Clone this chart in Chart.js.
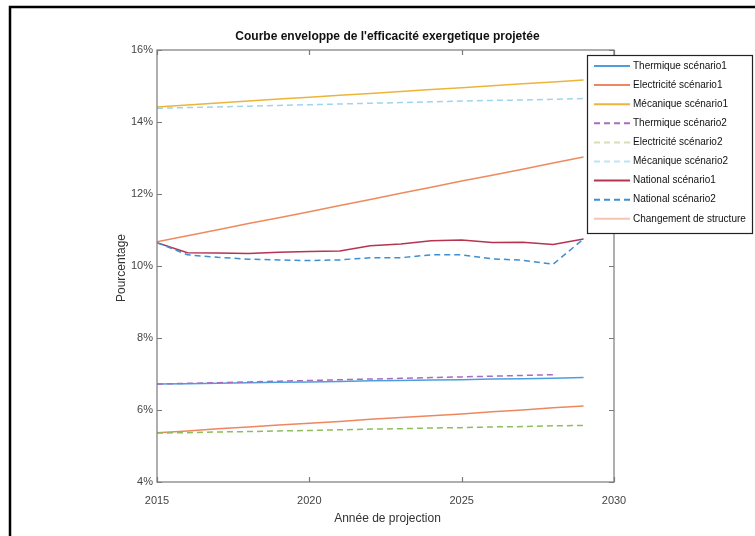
<!DOCTYPE html>
<html>
<head>
<meta charset="utf-8">
<script src="https://cdn.jsdelivr.net/npm/chart.js@4/dist/chart.umd.min.js"></script>
<style>
  html, body { margin: 0; padding: 0; background: #fff; }
  #wrap { width: 755px; height: 536px; position: relative; }
</style>
</head>
<body>
<div id="wrap"><canvas id="chart" width="755" height="536"></canvas></div>
<script>
// Values (percent)
const years = [2015, 2016, 2017, 2018, 2019, 2020, 2021, 2022, 2023, 2024, 2025, 2026, 2027, 2028, 2029];
const thermique1 = [6.72, 6.73, 6.74, 6.76, 6.77, 6.78, 6.79, 6.81, 6.82, 6.83, 6.84, 6.86, 6.87, 6.88, 6.90];
const electricite1 = [5.37, 5.42, 5.48, 5.53, 5.58, 5.63, 5.68, 5.74, 5.79, 5.84, 5.89, 5.95, 6.00, 6.06, 6.11];
const mecanique1 = [14.42, 14.47, 14.53, 14.58, 14.64, 14.69, 14.74, 14.79, 14.85, 14.90, 14.95, 15.01, 15.06, 15.11, 15.17];
const thermique2 = [6.72, 6.74, 6.76, 6.78, 6.80, 6.82, 6.84, 6.86, 6.88, 6.90, 6.92, 6.94, 6.96, 6.98, null];
const electricite2 = [5.36, 5.37, 5.39, 5.40, 5.42, 5.43, 5.45, 5.47, 5.48, 5.50, 5.51, 5.53, 5.54, 5.56, 5.57];
const mecanique2 = [14.38, 14.40, 14.42, 14.44, 14.46, 14.48, 14.50, 14.52, 14.54, 14.56, 14.58, 14.60, 14.61, 14.63, 14.65];
const national1 = [10.65, 10.37, 10.36, 10.35, 10.38, 10.40, 10.42, 10.56, 10.61, 10.70, 10.72, 10.65, 10.66, 10.60, 10.75];
const national2 = [10.65, 10.31, 10.24, 10.19, 10.17, 10.15, 10.17, 10.23, 10.23, 10.31, 10.31, 10.20, 10.16, 10.05, 10.75];
const changement = [10.67, 10.84, 11.01, 11.18, 11.34, 11.51, 11.68, 11.85, 12.02, 12.19, 12.36, 12.52, 12.69, 12.86, 13.03];

const seriesNames = [
  "Thermique scénario1", "Electricité scénario1", "Mécanique scénario1",
  "Thermique scénario2", "Electricité scénario2", "Mécanique scénario2",
  "National scénario1", "National scénario2", "Changement de structure"
];
const seriesValues = [thermique1, electricite1, mecanique1, thermique2, electricite2, mecanique2, national1, national2, changement];
// legend swatches look paler than the plotted lines in the picture
const legendColors = ["#4c9fdc", "#ee8660", "#ecb53a", "#a86cc0", "#dcdcb8", "#bfe3f4", "#b53450", "#3d8fd2", "#f6c4b2"];
const lineColors = ["#4c9fdc", "#ee8660", "#ecb53a", "#a86cc0", "#8fbc5c", "#9fd4ee", "#b53450", "#3d8fd2", "#ee8a5e"];
const seriesDashed = [false, false, false, true, true, true, false, true, false];

const xTicks = [2015, 2020, 2025, 2030];
const yTicks = [4, 6, 8, 10, 12, 14, 16];

const title = "Courbe enveloppe de l'efficacité exergetique projetée";
const xTitle = "Année de projection";
const yTitle = "Pourcentage";

const FONT = "'Liberation Sans', Arial, sans-serif";

const datasets = seriesNames.map((name, i) => ({
  label: name,
  data: years.map((y, j) => ({ x: y, y: seriesValues[i][j] })),
  borderColor: lineColors[i],
  backgroundColor: lineColors[i],
  borderWidth: 1.5,
  borderDash: seriesDashed[i] ? [6, 4] : [],
  pointRadius: 0,
  tension: 0,
  spanGaps: false,
  order: 9 - i
}));

// draws the frame, box, inward ticks, titles and legend like the matlab figure
const decorations = {
  id: "decorations",
  beforeDraw(chart) {
    const ctx = chart.ctx;
    ctx.save();
    ctx.fillStyle = "#fff";
    ctx.fillRect(0, 0, chart.width, chart.height);
    ctx.strokeStyle = "#000";
    ctx.lineWidth = 2.5;
    ctx.beginPath();
    ctx.moveTo(10, chart.height);
    ctx.lineTo(10, 7);
    ctx.lineTo(chart.width, 7);
    ctx.stroke();
    ctx.restore();
  },
  afterDraw(chart) {
    const ctx = chart.ctx;
    const a = chart.chartArea;
    const xs = chart.scales.x, ys = chart.scales.y;
    ctx.save();
    // axes box
    ctx.strokeStyle = "#7a7a7a";
    ctx.lineWidth = 1.2;
    ctx.strokeRect(a.left, a.top, a.right - a.left, a.bottom - a.top);
    // inward ticks
    ctx.beginPath();
    xTicks.forEach(v => {
      const px = Math.round(xs.getPixelForValue(v)) + 0.5;
      ctx.moveTo(px, a.bottom); ctx.lineTo(px, a.bottom - 5);
      ctx.moveTo(px, a.top); ctx.lineTo(px, a.top + 5);
    });
    yTicks.forEach(v => {
      const py = Math.round(ys.getPixelForValue(v)) + 0.5;
      ctx.moveTo(a.left, py); ctx.lineTo(a.left + 5, py);
      ctx.moveTo(a.right, py); ctx.lineTo(a.right - 5, py);
    });
    ctx.stroke();

    // title and axis titles
    ctx.fillStyle = "#111";
    ctx.font = "bold 12px " + FONT;
    ctx.textAlign = "center";
    ctx.textBaseline = "middle";
    ctx.fillText(title, (a.left + a.right) / 2 + 2, 37);
    ctx.fillStyle = "#333";
    ctx.font = "12px " + FONT;
    ctx.fillText(xTitle, (a.left + a.right) / 2 + 2, 519);
    ctx.save();
    ctx.translate(122, (a.top + a.bottom) / 2 + 2);
    ctx.rotate(-Math.PI / 2);
    ctx.fillText(yTitle, 0, 0);
    ctx.restore();

    // legend
    const lx = 587, ly = 55, lw = 165, lh = 178;
    ctx.fillStyle = "#fff";
    ctx.fillRect(lx, ly, lw, lh);
    ctx.strokeStyle = "#222";
    ctx.lineWidth = 1.2;
    ctx.strokeRect(lx + 0.5, ly + 0.5, lw, lh);
    ctx.font = "10px " + FONT;
    ctx.textAlign = "left";
    chart.data.datasets.forEach((ds, i) => {
      const yy = 66 + i * 19.1;
      ctx.strokeStyle = legendColors[i];
      ctx.lineWidth = 2;
      ctx.setLineDash(seriesDashed[i] ? [6, 4] : []);
      ctx.beginPath();
      ctx.moveTo(594, yy);
      ctx.lineTo(630, yy);
      ctx.stroke();
      ctx.setLineDash([]);
      ctx.fillStyle = "#111";
      ctx.fillText(ds.label, 633, yy);
    });
    ctx.restore();
  }
};

new Chart(document.getElementById("chart"), {
  type: "line",
  data: { datasets },
  options: {
    responsive: false,
    animation: false,
    layout: { padding: { top: 50, right: 141, left: 0, bottom: 0 } },
    plugins: { legend: { display: false }, title: { display: false }, tooltip: { enabled: false } },
    scales: {
      x: {
        type: "linear",
        min: 2015,
        max: 2030,
        afterFit: s => { s.height = 54; },
        afterBuildTicks: s => { s.ticks = xTicks.map(v => ({ value: v })); },
        grid: { display: false, drawTicks: false },
        border: { display: false },
        ticks: { color: "#444", font: { family: FONT, size: 11 }, padding: 12, maxRotation: 0, callback: v => String(v) }
      },
      y: {
        min: 4,
        max: 16,
        afterFit: s => { s.width = 157; },
        afterBuildTicks: s => { s.ticks = yTicks.map(v => ({ value: v })); },
        grid: { display: false, drawTicks: false },
        border: { display: false },
        ticks: { color: "#444", font: { family: FONT, size: 11 }, padding: 4, callback: v => v + "%" }
      }
    }
  },
  plugins: [decorations]
});
</script>
</body>
</html>
